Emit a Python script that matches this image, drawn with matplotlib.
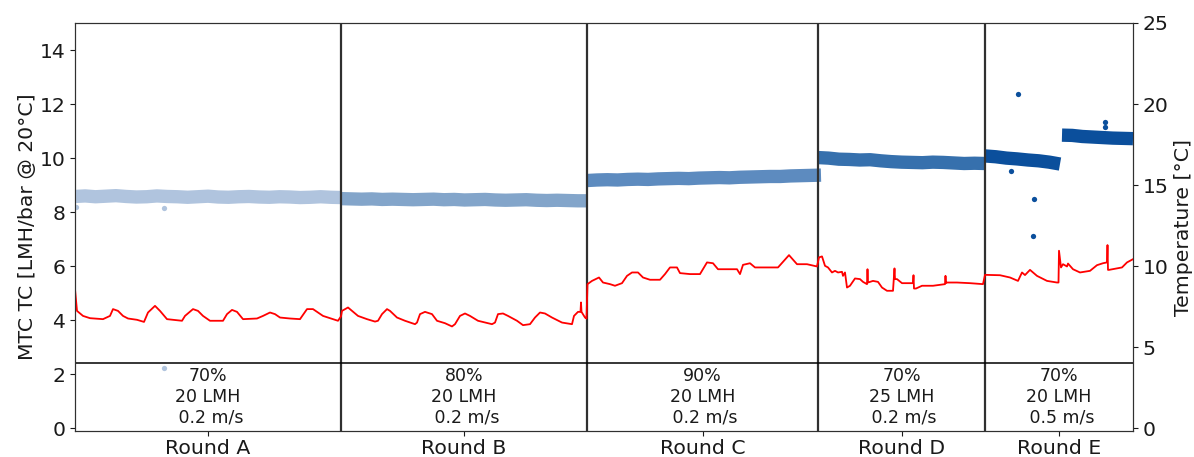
import numpy as np
import matplotlib
matplotlib.use("Agg")
import matplotlib.pyplot as plt

# ---------------- data ----------------
rounds = ["Round A", "Round B", "Round C", "Round D", "Round E"]
bounds = [0.0, 26.6, 51.2, 74.3, 91.0, 105.8]   # days, round boundaries
conditions = ["70%\n20 LMH\n 0.2 m/s", "80%\n20 LMH\n 0.2 m/s", "90%\n20 LMH\n 0.2 m/s",
              "70%\n25 LMH\n 0.2 m/s", "70%\n20 LMH\n 0.5 m/s"]
colors = ["#b0c4de", "#83a5ca", "#5d8bbf", "#3670ad", "#0b4f9c"]

# MTC TC values (left axis) per round segment
tc_A = [8.58, 8.60, 8.57, 8.59, 8.61, 8.58, 8.56, 8.57, 8.60, 8.58, 8.57, 8.55, 8.57, 8.59,
        8.56, 8.55, 8.57, 8.58, 8.56, 8.55, 8.57, 8.56, 8.54, 8.55, 8.57, 8.55, 8.54]
tc_B = [8.50, 8.49, 8.48, 8.49, 8.47, 8.48, 8.47, 8.46, 8.47, 8.48, 8.46, 8.47, 8.45, 8.46,
        8.47, 8.45, 8.44, 8.45, 8.46, 8.44, 8.43, 8.44, 8.43, 8.42, 8.42]
tc_C = [9.17, 9.19, 9.20, 9.19, 9.21, 9.22, 9.21, 9.23, 9.24, 9.25, 9.24, 9.26, 9.27, 9.28,
        9.27, 9.29, 9.30, 9.31, 9.32, 9.32, 9.34, 9.35, 9.36, 9.37]
tc_D = [10.02, 10.00, 9.96, 9.95, 9.93, 9.94, 9.90, 9.87, 9.85, 9.84, 9.83, 9.85, 9.84,
        9.82, 9.80, 9.81, 9.80]
tc_E1 = [10.08, 10.05, 10.00, 9.97, 9.93, 9.90, 9.85, 9.78]
tc_E2 = [10.85, 10.84, 10.80, 10.78, 10.76, 10.74, 10.73, 10.72]
seg_ranges = [(0.0, 26.6), (26.6, 51.3), (51.2, 74.6), (74.3, 91.0), (91.0, 98.5), (98.7, 105.8)]
seg_values = [tc_A, tc_B, tc_C, tc_D, tc_E1, tc_E2]
seg_color_idx = [0, 1, 2, 3, 4, 4]

# outliers (day, value, round index)
out_days = [0.05, 8.9, 8.9, 93.6, 94.3, 95.8, 95.9, 103.0, 103.0]
out_vals = [8.20, 8.15, 2.25, 9.52, 12.37, 7.11, 8.50, 11.35, 11.15]
out_col = [0, 0, 0, 4, 4, 4, 4, 4, 4]

# Temperature (right axis)
temp_days = [0.0, 0.2, 0.8, 1.5, 2.8, 3.5, 3.8, 4.3, 4.8, 5.3, 6.2, 6.9, 7.3, 8.0, 8.5, 9.2,
             10.7, 11.0, 11.8, 12.3, 12.8, 13.5, 14.8, 15.2, 15.7, 16.2, 16.8, 18.2, 18.8,
             19.5, 20.0, 20.5, 21.5, 22.5, 23.2, 23.8, 24.8, 25.8, 26.3, 26.6,
             26.7, 27.3, 27.7, 28.3, 29.2, 30.0, 30.3, 30.7, 31.2, 31.5, 32.2, 33.0, 34.0,
             34.2, 34.5, 35.0, 35.7, 36.2, 37.0, 37.7, 38.0, 38.5, 39.0, 39.5, 40.3, 41.7,
             42.0, 42.3, 42.8, 43.3, 44.2, 44.8, 45.5, 46.0, 46.5, 47.0, 47.7, 48.7, 49.7,
             49.9, 50.3, 50.55, 50.6, 50.65, 51.0, 51.15,
             51.25, 51.7, 52.2, 52.4, 52.8, 53.5, 54.0, 54.7, 55.2, 55.7, 56.3, 56.8, 57.5,
             58.5, 59.0, 59.5, 60.2, 60.5, 61.5, 62.5, 63.2, 63.8, 64.3, 65.2, 66.2, 66.5,
             66.8, 67.5, 68.0, 69.2, 70.3, 70.8, 71.4, 72.2, 73.2, 74.2,
             74.4, 74.7, 75.0, 75.3, 75.7, 76.0, 76.3, 76.7, 76.8, 77.0, 77.2, 77.5, 78.0,
             78.5, 78.8, 79.2, 79.25, 79.3, 79.8, 80.3, 80.7, 81.2, 81.8, 81.95, 82.0, 82.2,
             82.7, 83.8, 83.85, 83.9, 84.1, 84.7, 85.8, 87.0, 87.05, 87.1, 87.2, 88.2, 89.5,
             90.8, 91.0,
             91.2, 92.5, 93.5, 94.3, 94.7, 95.0, 95.5, 96.2, 97.2, 98.2, 98.35, 98.4, 98.6,
             98.8, 99.2, 99.3, 99.8, 100.5, 101.5, 102.2, 102.8, 103.2, 103.25, 103.3, 103.4,
             104.2, 104.7, 105.2, 105.8]
temp_vals = [8.58, 7.24, 6.93, 6.79, 6.73, 6.93, 7.35, 7.24, 6.93, 6.77, 6.69, 6.56, 7.14,
             7.55, 7.24, 6.73, 6.63, 6.93, 7.35, 7.24, 6.93, 6.63, 6.63, 7.04, 7.30, 7.18,
             6.73, 6.77, 6.93, 7.14, 7.04, 6.83, 6.77, 6.73, 7.35, 7.35, 6.93, 6.73, 6.63,
             6.90,
             7.24, 7.45, 7.24, 6.93, 6.73, 6.58, 6.63, 7.04, 7.35, 7.24, 6.83, 6.63, 6.42,
             6.52, 7.04, 7.18, 7.04, 6.63, 6.48, 6.28, 6.42, 6.93, 7.08, 6.93, 6.63, 6.42,
             6.52, 7.04, 7.08, 6.93, 6.63, 6.36, 6.42, 6.83, 7.14, 7.08, 6.83, 6.52, 6.42,
             6.93, 7.18, 7.18, 7.76, 7.18, 6.83, 6.77,
             8.89, 9.09, 9.24, 9.30, 8.99, 8.89, 8.79, 8.95, 9.40, 9.61, 9.61, 9.30, 9.16,
             9.16, 9.51, 9.92, 9.92, 9.57, 9.51, 9.51, 10.23, 10.18, 9.81, 9.81, 9.81, 9.51,
             10.08, 10.18, 9.92, 9.92, 9.92, 10.27, 10.68, 10.12, 10.12, 9.98,
             10.54, 10.60, 10.02, 9.92, 9.61, 9.71, 9.61, 9.65, 9.40, 9.61, 8.68, 8.79, 9.24,
             9.20, 9.03, 8.89, 9.81, 8.99, 9.09, 9.03, 8.68, 8.48, 8.48, 9.86, 9.20, 9.20,
             8.95, 8.95, 9.44, 8.62, 8.62, 8.79, 8.79, 8.89, 9.40, 8.95, 8.99, 8.99, 8.95,
             8.89, 9.46,
             9.46, 9.44, 9.30, 9.09, 9.61, 9.45, 9.77, 9.40, 9.09, 8.99, 8.99, 10.95, 9.92,
             10.12, 9.98, 10.16, 9.81, 9.61, 9.71, 10.06, 10.18, 10.23, 11.30, 9.77, 9.77,
             9.86, 9.92, 10.23, 10.43]

# ---------------- figure ----------------
W, H = 1194, 457
fig = plt.figure(figsize=(W / 100, H / 100), dpi=100)
ax = fig.add_axes([75 / W, 1 - 431 / H, (1133 - 75) / W, (431 - 23) / H])
ax2 = ax.twinx()

for (s, e), vals, ci in zip(seg_ranges, seg_values, seg_color_idx):
    xs = np.linspace(s, e, len(vals))
    ax.plot(xs, vals, linestyle="-", linewidth=9.6, solid_capstyle="butt",
            solid_joinstyle="round", color=colors[ci], zorder=3)

for d, v, ci in zip(out_days, out_vals, out_col):
    ax.plot([d], [v], linestyle="none", marker="o", markersize=3.8,
            markeredgewidth=0, color=colors[ci], zorder=3)

ax2.plot(temp_days, temp_vals, color="red", linewidth=1.3, zorder=2)

for b in bounds[1:-1]:
    ax.axvline(b, color="#303030", linewidth=1.6, zorder=4)
ax.axhline(2.4, color="black", linewidth=1.1, zorder=4)

centers = [(bounds[i] + bounds[i + 1]) / 2 for i in range(len(rounds))]
for c, txt in zip(centers, conditions):
    ax.text(c, 1.17, txt, ha="center", va="center", fontsize=12.5,
            linespacing=1.2, color="#1a1a1a", zorder=5)

ax.set_xlim(bounds[0], bounds[-1])
ax.set_ylim(-0.1, 15)
ax2.set_ylim(-0.17, 25)
ax.set_yticks(np.arange(0, 15, 2))
ax2.set_yticks(np.arange(0, 26, 5))
ax.set_xticks(centers)
ax.set_xticklabels(rounds)

ax.tick_params(labelsize=14.7, colors="#1a1a1a")
ax.tick_params(axis="x", pad=2.5)
ax2.tick_params(labelsize=14.7, colors="#1a1a1a")
ax.set_ylabel("MTC TC [LMH/bar @ 20°C]", fontsize=14.7, color="#1a1a1a", labelpad=2)
ax2.set_ylabel("Temperature [°C]", fontsize=14.7, color="#1a1a1a", labelpad=4)
for a in (ax, ax2):
    for sp in a.spines.values():
        sp.set_color("#303030")

fig.savefig("out.png", dpi=100)
